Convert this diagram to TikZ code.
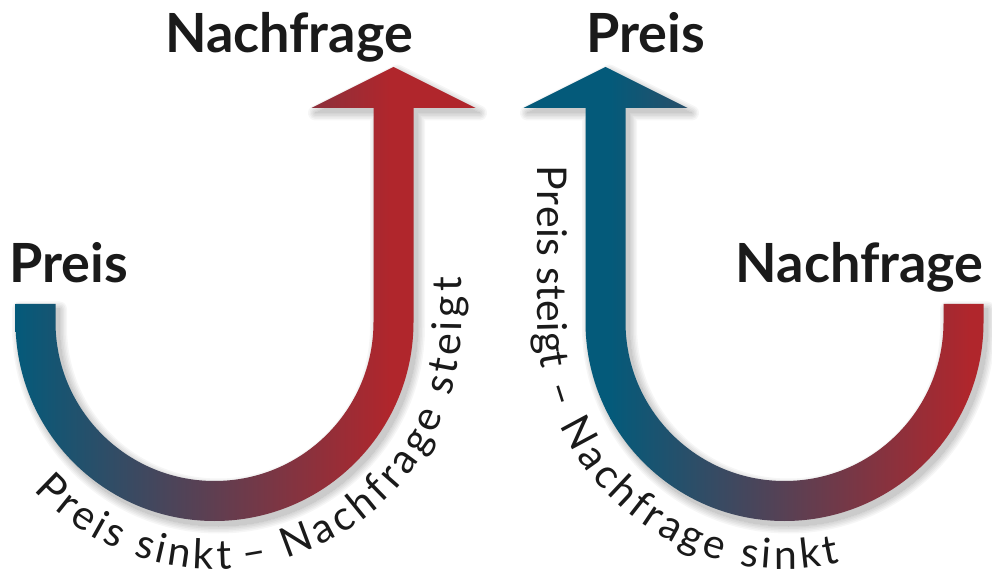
\documentclass[tikz,border=0pt]{standalone}
\usepackage{fontspec}
\usetikzlibrary{decorations.text}
\newfontfamily\labelfont{Lato}
\definecolor{priceblue}{RGB}{4,90,122}
\definecolor{demandred}{RGB}{176,38,44}
\definecolor{inkgray}{RGB}{26,26,26}
\newcommand\pathfont{\color{inkgray}\labelfont\fontsize{41}{41}\selectfont}

% outlines of the two U-shaped arrows (1pt = 1 unit)
\def\leftU{(15.5,269) -- (15.5,251) arc[start angle=180,end angle=360,radius=199]
  -- (413.5,465) -- (475.5,465) -- (393.5,506) -- (311.5,465) -- (373.5,465)
  -- (373.5,251) arc[start angle=0,end angle=-180,radius=159] -- (55.5,269) -- cycle}
\def\rightU{(983.5,269) -- (983.5,251) arc[start angle=0,end angle=-180,radius=199]
  -- (585.5,465) -- (523.5,465) -- (605.5,506) -- (687.5,465) -- (625.5,465)
  -- (625.5,251) arc[start angle=180,end angle=360,radius=159] -- (943.5,269) -- cycle}

\begin{document}
\begin{tikzpicture}[x=1pt,y=1pt,
  bigtext/.style={font=\labelfont\bfseries\fontsize{54}{54}\selectfont,
    text=inkgray, inner sep=0pt, anchor=base},
  softshadow/.style={black, line join=round, shift={(4,-5)}}]
\fill[white] (0,0) rectangle (992,573);
\useasboundingbox (0,0) rectangle (992,573);

% soft drop shadows
\foreach \w in {0,3,6,9,12,15}{
  \begin{scope}[transparency group, opacity=0.035]
    \filldraw[softshadow, line width=\w pt] \leftU;
  \end{scope}
  \begin{scope}[transparency group, opacity=0.035]
    \filldraw[softshadow, line width=\w pt] \rightU;
  \end{scope}
}

% left arrow: price falls, demand rises
\begin{scope}
  \clip \leftU;
  \shade[left color=priceblue, right color=demandred] (15,0) rectangle (390,573);
  \fill[demandred] (389.5,0) rectangle (480,573);
\end{scope}

% right arrow: price rises, demand falls
\begin{scope}
  \clip \rightU;
  \fill[priceblue] (520,0) rectangle (610.5,573);
  \shade[left color=priceblue, right color=demandred] (610,0) rectangle (970,573);
  \fill[demandred] (969.5,0) rectangle (990,573);
\end{scope}

% labels
\node[bigtext] (nfL) at (289,520) {Nachfrage};
\node[bigtext] (prL) at (68.5,290) {Preis};
\node[bigtext] (prR) at (645.5,520) {Preis};
\node[bigtext] (nfR) at (859.5,290) {Nachfrage};

% captions running round the arrows
\path[decorate, decoration={text along path, text={|\pathfont|Preis sinkt},
    text align={fit to path}}]
  ([shift={(214.5,251)}]223:247) arc[start angle=223,end angle=274,radius=247];
\path[decorate, decoration={text along path, text={|\pathfont|– Nachfrage steigt},
    text align={fit to path}}]
  ([shift={(214.5,251)}]277:247) arc[start angle=277,end angle=360,radius=247]
  -- (461.5,296);
\path[decorate, decoration={text along path, text={|\pathfont|Preis steigt},
    text align={fit to path}}]
  (537.5,407) -- (537.5,251) arc[start angle=180,end angle=191,radius=247];
\path[decorate, decoration={text along path, text={|\pathfont|– Nachfrage sinkt},
    text align={fit to path}}]
  ([shift={(784.5,251)}]195:247) arc[start angle=195,end angle=283,radius=247];
\end{tikzpicture}
\end{document}
